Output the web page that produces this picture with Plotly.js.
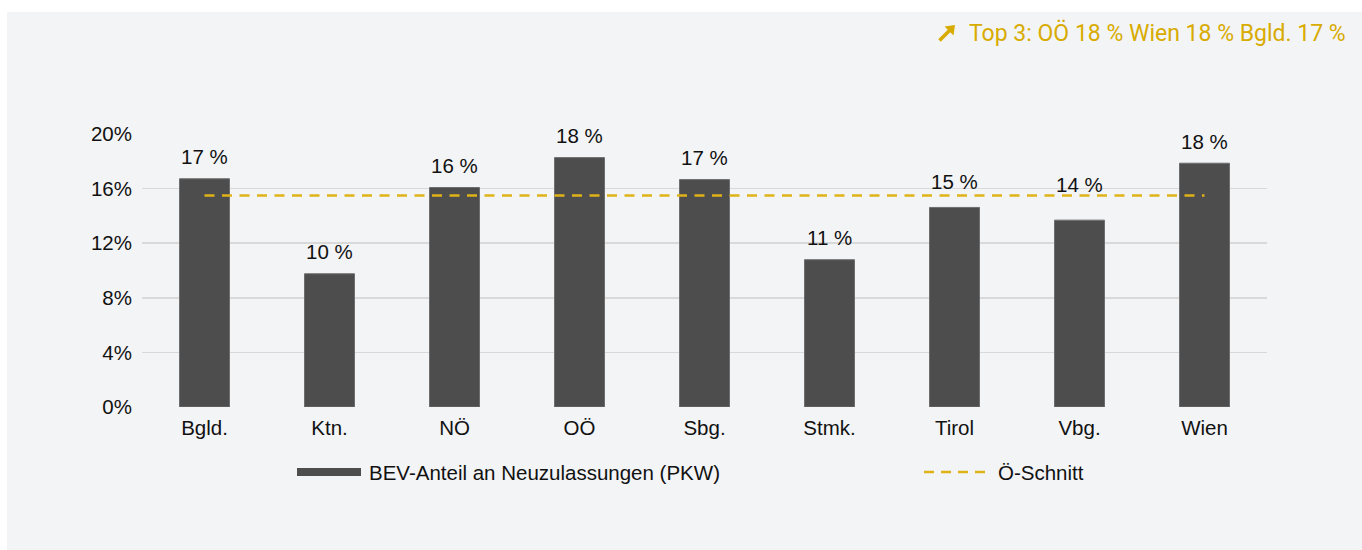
<!DOCTYPE html>
<html>
<head>
<meta charset="utf-8">
<script src="https://cdn.plot.ly/plotly-3.0.1.min.js"></script>
<style>
  html, body { margin: 0; padding: 0; background: #ffffff; }
  #chart { position: absolute; left: 7px; top: 12px; width: 1355px; height: 538px; }
</style>
</head>
<body>
<div id="chart"></div>
<script>
// ---- data ----
const categories = ["Bgld.", "Ktn.", "NÖ", "OÖ", "Sbg.", "Stmk.", "Tirol", "Vbg.", "Wien"];
const bevShare = [16.72, 9.76, 16.08, 18.27, 16.66, 10.79, 14.62, 13.69, 17.86];
const austriaAverage = 15.5;
const yTickValues = [0, 4, 8, 12, 16, 20];
const yTickLabels = ["0%", "4%", "8%", "12%", "16%", "20%"];
const barSeriesName = "BEV-Anteil an Neuzulassungen (PKW)";
const avgSeriesName = "Ö-Schnitt";

// ---- styles ----
const W = 1355, H = 538;
const M = { l: 135, r: 95, t: 122, b: 143 };
const barColor = "#4d4d4d";
const gold = "#dfb317";
const goldText = "#d8ab00";
const font = "Liberation Sans, Arial, sans-serif";
const fs = 20.5;
const labelShift = { "Tirol": 26, "Vbg.": 36 };

const pw = W - M.l - M.r, ph = H - M.t - M.b;
const px = x => (x - M.l) / pw;           // div pixel -> paper x
const py = y => (H - M.b - y) / ph;       // div pixel -> paper y

const avgLine = categories.map(() => austriaAverage);

const traces = [
  {
    type: "bar", x: categories, y: bevShare, name: barSeriesName,
    marker: { color: barColor, line: { color: "#6e6e6e", width: 1 } },
    width: 0.4, hoverinfo: "x+y", showlegend: false
  },
  {
    type: "scatter", mode: "lines", x: categories, y: avgLine, name: avgSeriesName,
    line: { color: gold, width: 2.5, dash: "10px,7.5px" }, showlegend: false
  }
];

const annotations = categories.map((c, i) => ({
  x: c, y: bevShare[i], xref: "x", yref: "y",
  text: Math.round(bevShare[i]) + " %", showarrow: false,
  yanchor: "middle", yshift: labelShift[c] || 22,
  font: { family: font, size: fs, color: "#111111" }
}));

// Top 3 summary computed from the data
const top3 = categories.map((c, i) => [c, bevShare[i]]).sort((a, b) => b[1] - a[1]).slice(0, 3);
const topText = "Top 3: " + top3.map(d => d[0] + " " + Math.round(d[1]) + " %").join(" ");
annotations.push({
  xref: "paper", yref: "paper", x: px(1341), y: py(21), xanchor: "right", yanchor: "middle",
  text: topText, showarrow: false,
  font: { family: "Roboto, sans-serif", size: 23, color: goldText }
});

// arrow icon (shaft + head) drawn as shapes
const P = (x, y) => px(x).toFixed(5) + "," + py(y).toFixed(5);
const shapes = [
  { type: "line", xref: "paper", yref: "paper", x0: px(932.5), y0: py(28.5), x1: px(943), y1: py(18),
    line: { color: goldText, width: 3.5 } },
  { type: "path", xref: "paper", yref: "paper",
    path: "M" + P(948, 13) + "L" + P(937.5, 14.5) + "L" + P(946.5, 23.5) + "Z",
    fillcolor: goldText, line: { width: 0 } },
  // custom legend
  { type: "rect", xref: "paper", yref: "paper", x0: px(290), x1: px(354), y0: py(464), y1: py(456),
    fillcolor: barColor, line: { width: 0 } },
  { type: "line", xref: "paper", yref: "paper", x0: px(917), x1: px(978), y0: py(460), y1: py(460),
    line: { color: gold, width: 2.5, dash: "10px,7px" } }
];
annotations.push({
  xref: "paper", yref: "paper", x: px(360), y: py(460), xanchor: "left", yanchor: "middle",
  text: barSeriesName, showarrow: false, font: { family: font, size: fs, color: "#111111" }
});
annotations.push({
  xref: "paper", yref: "paper", x: px(989), y: py(460), xanchor: "left", yanchor: "middle",
  text: avgSeriesName, showarrow: false, font: { family: font, size: fs, color: "#111111" }
});

const layout = {
  width: W, height: H,
  margin: M,
  paper_bgcolor: "#f3f4f6", plot_bgcolor: "#f3f4f6",
  font: { family: font, size: fs, color: "#111111" },
  showlegend: false,
  xaxis: {
    type: "category", showgrid: false, zeroline: false, showline: false, ticks: "",
    ticklabelstandoff: 6, tickfont: { family: font, size: fs, color: "#111111" }
  },
  yaxis: {
    range: [0, 20], tickvals: yTickValues, ticktext: yTickLabels,
    showgrid: true, gridcolor: "#d9d9d9", gridwidth: 1.5, zeroline: false, showline: false,
    ticks: "", ticklabelstandoff: 9, tickfont: { family: font, size: fs, color: "#111111" }
  },
  annotations: annotations,
  shapes: shapes
};

Plotly.newPlot("chart", traces, layout, { displayModeBar: false, staticPlot: true });
</script>
</body>
</html>
